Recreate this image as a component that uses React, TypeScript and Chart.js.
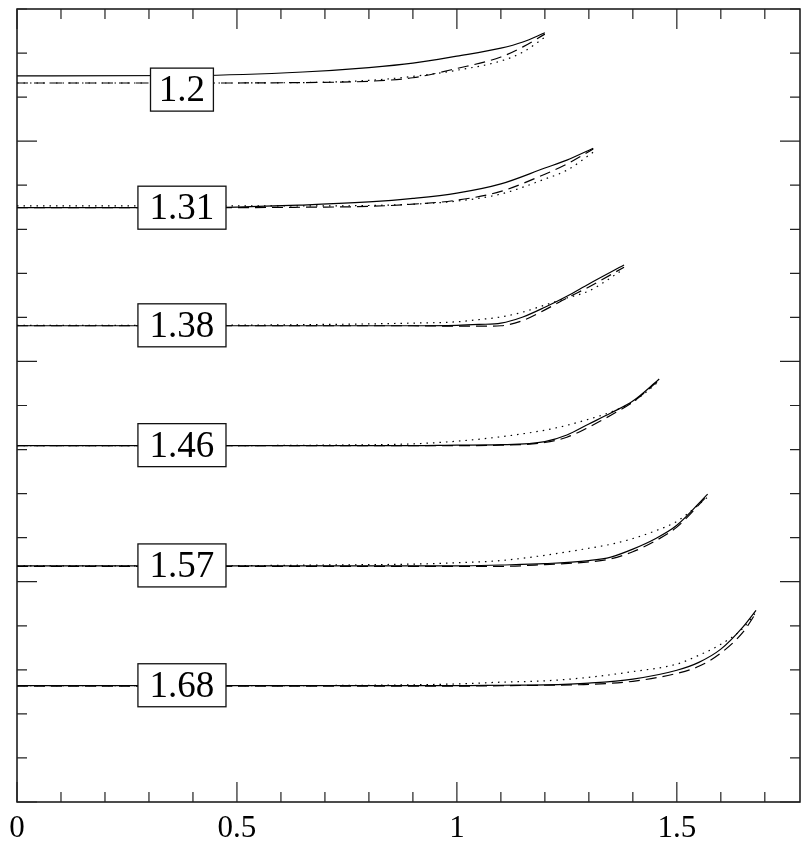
import React, { useEffect, useRef } from "react";
import { Chart, registerables } from "chart.js";

Chart.register(...registerables);

// Bottom-axis tick labels
const xTickValues = [0, 0.5, 1, 1.5];
const xTickLabels = ["0", "0.5", "1", "1.5"];

// Curve family labels and where their boxes sit
const curveNames = ["1.2", "1.31", "1.38", "1.46", "1.57", "1.68"];
const labelX = 0.375;
const labelY = [16.17, 13.49, 10.82, 8.1, 5.37, 2.65];

// Curve 1.2
const x12 = [0, 0.4, 0.65, 0.8, 0.9, 1.0, 1.1, 1.15, 1.2];
const solid12 = [16.48, 16.49, 16.57, 16.67, 16.77, 16.93, 17.11, 17.25, 17.46];
const dashed12 = [16.32, 16.32, 16.33, 16.36, 16.44, 16.65, 16.91, 17.14, 17.43];
const dotted12 = [16.32, 16.32, 16.33, 16.38, 16.47, 16.61, 16.82, 17.02, 17.36];

// Curve 1.31
const x131 = [0, 0.4, 0.65, 0.8, 0.9, 1.0, 1.1, 1.2, 1.25, 1.31];
const solid131 = [13.49, 13.49, 13.55, 13.62, 13.7, 13.82, 14.03, 14.39, 14.57, 14.84];
const dashed131 = [13.49, 13.49, 13.5, 13.52, 13.57, 13.66, 13.86, 14.25, 14.48, 14.82];
const dotted131 = [13.53, 13.53, 13.53, 13.54, 13.57, 13.64, 13.8, 14.14, 14.34, 14.75];

// Curve 1.38
const x138 = [0, 0.4, 0.7, 0.9, 1.0, 1.05, 1.1, 1.15, 1.2, 1.25, 1.3, 1.38];
const solid138 = [10.81, 10.81, 10.81, 10.81, 10.82, 10.84, 10.87, 11.01, 11.23, 11.48, 11.76, 12.19];
const dashed138 = [10.81, 10.81, 10.81, 10.81, 10.8, 10.8, 10.81, 10.93, 11.17, 11.44, 11.69, 12.14];
const dotted138 = [10.82, 10.82, 10.84, 10.87, 10.9, 10.95, 11.01, 11.12, 11.28, 11.44, 11.6, 12.1];

// Curve 1.46
const x146 = [0, 0.4, 0.7, 0.9, 1.0, 1.1, 1.2, 1.25, 1.3, 1.35, 1.4, 1.46];
const solid146 = [8.09, 8.09, 8.09, 8.09, 8.1, 8.11, 8.18, 8.33, 8.58, 8.83, 9.1, 9.6];
const dashed146 = [8.09, 8.09, 8.09, 8.09, 8.09, 8.1, 8.16, 8.28, 8.51, 8.78, 9.08, 9.58];
const dotted146 = [8.09, 8.09, 8.1, 8.13, 8.19, 8.29, 8.44, 8.55, 8.69, 8.85, 9.08, 9.55];

// Curve 1.57
const x157 = [0, 0.4, 0.7, 0.9, 1.0, 1.1, 1.2, 1.3, 1.35, 1.4, 1.45, 1.5, 1.57];
const solid157 = [5.36, 5.36, 5.36, 5.36, 5.36, 5.38, 5.41, 5.48, 5.56, 5.74, 5.97, 6.28, 6.99];
const dashed157 = [5.35, 5.35, 5.35, 5.35, 5.35, 5.35, 5.39, 5.45, 5.52, 5.68, 5.92, 6.24, 6.96];
const dotted157 = [5.36, 5.36, 5.38, 5.4, 5.43, 5.48, 5.6, 5.76, 5.85, 5.98, 6.15, 6.37, 6.92];

// Curve 1.68
const x168 = [0, 0.4, 0.8, 1.0, 1.1, 1.2, 1.3, 1.4, 1.5, 1.55, 1.6, 1.65, 1.68];
const solid168 = [2.64, 2.64, 2.64, 2.64, 2.65, 2.66, 2.7, 2.79, 2.99, 3.17, 3.47, 3.97, 4.35];
const dashed168 = [2.63, 2.63, 2.63, 2.63, 2.64, 2.65, 2.67, 2.74, 2.92, 3.08, 3.38, 3.85, 4.29];
const dotted168 = [2.64, 2.64, 2.65, 2.68, 2.72, 2.75, 2.83, 2.96, 3.13, 3.33, 3.58, 3.94, 4.31];

const curveX = [x12, x131, x138, x146, x157, x168];
const curveSolid = [solid12, solid131, solid138, solid146, solid157, solid168];
const curveDashed = [dashed12, dashed131, dashed138, dashed146, dashed157, dashed168];
const curveDotted = [dotted12, dotted131, dotted138, dotted146, dotted157, dotted168];

const X_MIN = 0;
const X_MAX = 1.78;
const Y_MIN = 0;
const Y_MAX = 18;

const serif = "'Liberation Serif', 'DejaVu Serif', serif";

function buildDatasets() {
  const sets: any[] = [];
  curveNames.forEach((name, i) => {
    const xs = curveX[i];
    const styles: [number[], number[], string][] = [
      [curveSolid[i], [], "solid"],
      [curveDashed[i], [11, 6], "dashed"],
      [curveDotted[i], [1.5, 5], "dotted"],
    ];
    styles.forEach(([ys, dash, kind]) => {
      sets.push({
        label: `${name} ${kind}`,
        data: xs.map((x, k) => ({ x, y: ys[k] })),
        borderColor: "#000",
        borderWidth: 1.2,
        borderDash: dash,
        pointRadius: 0,
        fill: false,
        cubicInterpolationMode: "monotone",
      });
    });
  });
  return sets;
}

// Frame with inward ticks on all four sides, plus boxed curve labels
const framePlugin = {
  id: "frameTicks",
  afterDatasetsDraw(chart: any) {
    const { ctx, chartArea: a, scales } = chart;
    const xs = scales.x;
    const ys = scales.y;
    ctx.save();

    // boxed labels over the curves
    ctx.font = `37px ${serif}`;
    ctx.textAlign = "center";
    ctx.textBaseline = "middle";
    curveNames.forEach((name, i) => {
      const cx = xs.getPixelForValue(labelX);
      const cy = ys.getPixelForValue(labelY[i]);
      const tw = ctx.measureText(name).width;
      const w = tw * 1.36;
      const h = 43;
      ctx.fillStyle = "#fff";
      ctx.fillRect(cx - w / 2, cy - h / 2, w, h);
      ctx.strokeStyle = "#111";
      ctx.lineWidth = 1.3;
      ctx.strokeRect(cx - w / 2, cy - h / 2, w, h);
      ctx.fillStyle = "#000";
      ctx.fillText(name, cx, cy + 2);
    });

    // frame
    ctx.strokeStyle = "#111";
    ctx.lineWidth = 1.5;
    ctx.strokeRect(a.left, a.top, a.right - a.left, a.bottom - a.top);

    // ticks
    ctx.lineWidth = 1.2;
    ctx.strokeStyle = "#222";
    ctx.beginPath();
    for (let i = 0; i <= 17; i++) {
      const px = xs.getPixelForValue(i / 10);
      const len = i % 5 === 0 ? 20 : 10;
      ctx.moveTo(px, a.bottom);
      ctx.lineTo(px, a.bottom - len);
      ctx.moveTo(px, a.top);
      ctx.lineTo(px, a.top + len);
    }
    for (let j = 0; j <= 18; j++) {
      const py = ys.getPixelForValue(j);
      const len = j % 5 === 0 ? 20 : 10;
      ctx.moveTo(a.left, py);
      ctx.lineTo(a.left + len, py);
      ctx.moveTo(a.right, py);
      ctx.lineTo(a.right - len, py);
    }
    ctx.stroke();
    ctx.restore();
  },
};

export default function App() {
  const canvasRef = useRef<HTMLCanvasElement | null>(null);

  useEffect(() => {
    const canvas = canvasRef.current;
    if (!canvas) return;
    const chart = new Chart(canvas, {
      type: "line",
      data: { datasets: buildDatasets() },
      options: {
        animation: false,
        responsive: false,
        devicePixelRatio: 1,
        layout: { padding: { left: 17, right: 2, top: 9, bottom: 0 } },
        plugins: {
          legend: { display: false },
          tooltip: { enabled: false },
        },
        scales: {
          x: {
            type: "linear",
            position: "bottom",
            min: X_MIN,
            max: X_MAX,
            grid: { display: false, drawTicks: false },
            border: { display: false },
            afterBuildTicks: (scale: any) => {
              scale.ticks = xTickValues.map((v) => ({ value: v }));
            },
            afterFit: (scale: any) => {
              scale.height = 41;
            },
            ticks: {
              padding: 8,
              color: "#000",
              font: { family: serif, size: 31 },
              maxRotation: 0,
              autoSkip: false,
              callback: (v: any) => {
                const k = xTickValues.indexOf(Number(v));
                return k >= 0 ? xTickLabels[k] : "";
              },
            },
          },
          y: {
            type: "linear",
            min: Y_MIN,
            max: Y_MAX,
            display: false,
          },
        },
      },
      plugins: [framePlugin],
    } as any);
    return () => chart.destroy();
  }, []);

  return (
    <div style={{ position: "absolute", left: 0, top: 0, width: 802, height: 843, background: "#fff" }}>
      <canvas ref={canvasRef} width={802} height={843} style={{ display: "block" }} />
    </div>
  );
}
